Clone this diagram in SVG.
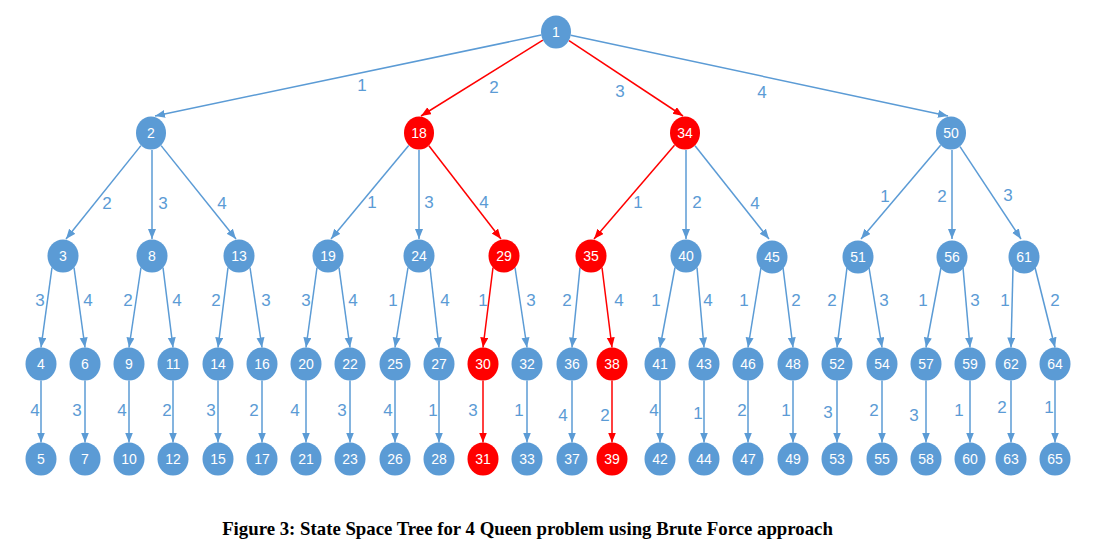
<svg xmlns="http://www.w3.org/2000/svg" width="1095" height="554" viewBox="0 0 1095 554">
<style>
.n ellipse{fill:#5B9BD5}
.r ellipse{fill:#FF0000}
.n text,.r text{fill:#fff;font-family:"Liberation Sans",Arial,sans-serif;font-size:14px;text-anchor:middle}
.e{stroke:#5B9BD5;stroke-width:1.5;fill:none;marker-end:url(#ab)}
.er{stroke:#FF0000;stroke-width:1.5;fill:none;marker-end:url(#ar)}
.lb{fill:#5B9BD5;font-family:"Liberation Sans",Arial,sans-serif;font-size:17px;text-anchor:middle}
.cap{font-family:"Liberation Serif","Times New Roman",serif;font-weight:bold;font-size:18.8px;text-anchor:middle;fill:#000}
</style>
<defs>
<marker id="ab" markerUnits="userSpaceOnUse" markerWidth="11" markerHeight="9" refX="10" refY="4" orient="auto"><path d="M0,0 L10,4 L0,8 z" fill="#5B9BD5"/></marker>
<marker id="ar" markerUnits="userSpaceOnUse" markerWidth="11" markerHeight="9" refX="10" refY="4" orient="auto"><path d="M0,0 L10,4 L0,8 z" fill="#FF0000"/></marker>
</defs>
<rect width="1095" height="554" fill="#fff"/>
<g id="connectors">
<line class="e" x1="541.2" y1="35.1" x2="155" y2="116"/>
<line class="er" x1="542.9" y1="40.2" x2="421" y2="116"/>
<line class="er" x1="569" y1="40.6" x2="683" y2="116"/>
<line class="e" x1="570.7" y1="35.2" x2="948" y2="116"/>
<line class="e" x1="140.9" y1="145.6" x2="66" y2="239"/>
<line class="e" x1="152" y1="150" x2="152" y2="239"/>
<line class="e" x1="161.1" y1="145.6" x2="236" y2="239"/>
<line class="e" x1="408.7" y1="145.4" x2="331" y2="239"/>
<line class="e" x1="419" y1="150" x2="419" y2="239"/>
<line class="er" x1="428.9" y1="145.8" x2="501" y2="239"/>
<line class="er" x1="674.5" y1="145.2" x2="594" y2="239"/>
<line class="e" x1="686" y1="150" x2="686" y2="239"/>
<line class="e" x1="695" y1="145.7" x2="769" y2="239"/>
<line class="e" x1="940.6" y1="145.3" x2="861" y2="239"/>
<line class="e" x1="952" y1="150" x2="952" y2="239"/>
<line class="e" x1="960" y1="146.6" x2="1021" y2="239"/>
<line class="e" x1="52" y1="267.5" x2="41" y2="347.5"/>
<line class="e" x1="74" y1="267.5" x2="85" y2="347.5"/>
<line class="e" x1="141" y1="267.5" x2="129" y2="347.5"/>
<line class="e" x1="163" y1="267.5" x2="173" y2="347.5"/>
<line class="e" x1="228" y1="267.5" x2="218" y2="347.5"/>
<line class="e" x1="250" y1="267.5" x2="262" y2="347.5"/>
<line class="e" x1="317" y1="267.5" x2="306" y2="347.5"/>
<line class="e" x1="339" y1="267.5" x2="350" y2="347.5"/>
<line class="e" x1="408" y1="267.5" x2="395" y2="347.5"/>
<line class="e" x1="430" y1="267.5" x2="439" y2="347.5"/>
<line class="er" x1="493" y1="267.5" x2="483" y2="347.5"/>
<line class="e" x1="515" y1="267.5" x2="527" y2="347.5"/>
<line class="e" x1="580" y1="267.5" x2="572" y2="347.5"/>
<line class="er" x1="602" y1="267.5" x2="612" y2="347.5"/>
<line class="e" x1="675" y1="267.5" x2="660" y2="347.5"/>
<line class="e" x1="697" y1="267.5" x2="704" y2="347.5"/>
<line class="e" x1="761" y1="267.5" x2="748" y2="347.5"/>
<line class="e" x1="783" y1="267.5" x2="793" y2="347.5"/>
<line class="e" x1="847" y1="267.5" x2="837" y2="347.5"/>
<line class="e" x1="869" y1="267.5" x2="882" y2="347.5"/>
<line class="e" x1="941" y1="267.5" x2="926" y2="347.5"/>
<line class="e" x1="963" y1="267.5" x2="970" y2="347.5"/>
<line class="e" x1="1013" y1="267.5" x2="1011" y2="347.5"/>
<line class="e" x1="1035" y1="267.5" x2="1055" y2="347.5"/>
<line class="e" x1="41" y1="380.5" x2="41" y2="442.5"/>
<line class="e" x1="85" y1="380.5" x2="85" y2="442.5"/>
<line class="e" x1="129" y1="380.5" x2="129" y2="442.5"/>
<line class="e" x1="173" y1="380.5" x2="173" y2="442.5"/>
<line class="e" x1="218" y1="380.5" x2="218" y2="442.5"/>
<line class="e" x1="262" y1="380.5" x2="262" y2="442.5"/>
<line class="e" x1="306" y1="380.5" x2="306" y2="442.5"/>
<line class="e" x1="350" y1="380.5" x2="350" y2="442.5"/>
<line class="e" x1="395" y1="380.5" x2="395" y2="442.5"/>
<line class="e" x1="439" y1="380.5" x2="439" y2="442.5"/>
<line class="er" x1="483" y1="380.5" x2="483" y2="442.5"/>
<line class="e" x1="527" y1="380.5" x2="527" y2="442.5"/>
<line class="e" x1="572" y1="380.5" x2="572" y2="442.5"/>
<line class="er" x1="612" y1="380.5" x2="612" y2="442.5"/>
<line class="e" x1="660" y1="380.5" x2="660" y2="442.5"/>
<line class="e" x1="704" y1="380.5" x2="704" y2="442.5"/>
<line class="e" x1="748" y1="380.5" x2="748" y2="442.5"/>
<line class="e" x1="793" y1="380.5" x2="793" y2="442.5"/>
<line class="e" x1="837" y1="380.5" x2="837" y2="442.5"/>
<line class="e" x1="882" y1="380.5" x2="882" y2="442.5"/>
<line class="e" x1="926" y1="380.5" x2="926" y2="442.5"/>
<line class="e" x1="970" y1="380.5" x2="970" y2="442.5"/>
<line class="e" x1="1011" y1="380.5" x2="1011" y2="442.5"/>
<line class="e" x1="1055" y1="380.5" x2="1055" y2="442.5"/>
</g>
<g id="edge-labels" class="lb">
<text class="lb" x="362" y="91">1</text>
<text class="lb" x="494" y="93">2</text>
<text class="lb" x="620" y="97">3</text>
<text class="lb" x="762" y="98">4</text>
<text class="lb" x="107" y="209">2</text>
<text class="lb" x="163" y="209">3</text>
<text class="lb" x="222" y="209">4</text>
<text class="lb" x="372" y="208">1</text>
<text class="lb" x="429" y="208">3</text>
<text class="lb" x="484" y="208">4</text>
<text class="lb" x="638" y="208">1</text>
<text class="lb" x="697" y="208">2</text>
<text class="lb" x="755" y="209">4</text>
<text class="lb" x="885" y="202">1</text>
<text class="lb" x="942" y="202">2</text>
<text class="lb" x="1008" y="201">3</text>
<text class="lb" x="40" y="306">3</text>
<text class="lb" x="88" y="306">4</text>
<text class="lb" x="128" y="306">2</text>
<text class="lb" x="177" y="306">4</text>
<text class="lb" x="216" y="306">2</text>
<text class="lb" x="266" y="306">3</text>
<text class="lb" x="306" y="306">3</text>
<text class="lb" x="353" y="306">4</text>
<text class="lb" x="393" y="306">1</text>
<text class="lb" x="445" y="306">4</text>
<text class="lb" x="483" y="306">1</text>
<text class="lb" x="531" y="306">3</text>
<text class="lb" x="567" y="306">2</text>
<text class="lb" x="619" y="306">4</text>
<text class="lb" x="656" y="306">1</text>
<text class="lb" x="708" y="306">4</text>
<text class="lb" x="744" y="306">1</text>
<text class="lb" x="796" y="306">2</text>
<text class="lb" x="832" y="306">2</text>
<text class="lb" x="884" y="306">3</text>
<text class="lb" x="923" y="306">1</text>
<text class="lb" x="975" y="306">3</text>
<text class="lb" x="1005" y="306">1</text>
<text class="lb" x="1055" y="306">2</text>
<text class="lb" x="35" y="416">4</text>
<text class="lb" x="77" y="416">3</text>
<text class="lb" x="122" y="416">4</text>
<text class="lb" x="167" y="416">2</text>
<text class="lb" x="211" y="416">3</text>
<text class="lb" x="254" y="416">2</text>
<text class="lb" x="295" y="416">4</text>
<text class="lb" x="342" y="416">3</text>
<text class="lb" x="388" y="416">4</text>
<text class="lb" x="433" y="416">1</text>
<text class="lb" x="473" y="416">3</text>
<text class="lb" x="519" y="416">1</text>
<text class="lb" x="563" y="421">4</text>
<text class="lb" x="605" y="421">2</text>
<text class="lb" x="654" y="416">4</text>
<text class="lb" x="698" y="419">1</text>
<text class="lb" x="742" y="416">2</text>
<text class="lb" x="786" y="416">1</text>
<text class="lb" x="828" y="418">3</text>
<text class="lb" x="874" y="416">2</text>
<text class="lb" x="914" y="421">3</text>
<text class="lb" x="959" y="416">1</text>
<text class="lb" x="1002" y="413">2</text>
<text class="lb" x="1049" y="413">1</text>
</g>
<g id="node-1" class="n"><ellipse cx="556" cy="32" rx="15" ry="16.5"/><text x="556" y="37">1</text></g>
<g id="node-2" class="n"><ellipse cx="151" cy="133" rx="15" ry="16.5"/><text x="151" y="138">2</text></g>
<g id="node-18" class="r"><ellipse cx="419" cy="133" rx="15" ry="16.5"/><text x="419" y="138">18</text></g>
<g id="node-34" class="r"><ellipse cx="685" cy="133" rx="15" ry="16.5"/><text x="685" y="138">34</text></g>
<g id="node-50" class="n"><ellipse cx="951" cy="133" rx="15" ry="16.5"/><text x="951" y="138">50</text></g>
<g id="node-3" class="n"><ellipse cx="63" cy="256" rx="15.5" ry="16.5"/><text x="63" y="261">3</text></g>
<g id="node-8" class="n"><ellipse cx="152" cy="256" rx="15.5" ry="16.5"/><text x="152" y="261">8</text></g>
<g id="node-13" class="n"><ellipse cx="239" cy="256" rx="15.5" ry="16.5"/><text x="239" y="261">13</text></g>
<g id="node-19" class="n"><ellipse cx="328" cy="256" rx="15.5" ry="16.5"/><text x="328" y="261">19</text></g>
<g id="node-24" class="n"><ellipse cx="419" cy="256" rx="15.5" ry="16.5"/><text x="419" y="261">24</text></g>
<g id="node-29" class="r"><ellipse cx="504" cy="256" rx="15.5" ry="16.5"/><text x="504" y="261">29</text></g>
<g id="node-35" class="r"><ellipse cx="591" cy="256" rx="15.5" ry="16.5"/><text x="591" y="261">35</text></g>
<g id="node-40" class="n"><ellipse cx="686" cy="256" rx="15.5" ry="16.5"/><text x="686" y="261">40</text></g>
<g id="node-45" class="n"><ellipse cx="772" cy="257" rx="15.5" ry="16.5"/><text x="772" y="262">45</text></g>
<g id="node-51" class="n"><ellipse cx="858" cy="257" rx="15.5" ry="16.5"/><text x="858" y="262">51</text></g>
<g id="node-56" class="n"><ellipse cx="952" cy="257" rx="15.5" ry="16.5"/><text x="952" y="262">56</text></g>
<g id="node-61" class="n"><ellipse cx="1024" cy="257" rx="15.5" ry="16.5"/><text x="1024" y="262">61</text></g>
<g id="node-4" class="n"><ellipse cx="41" cy="364" rx="15.5" ry="16.5"/><text x="41" y="369">4</text></g>
<g id="node-6" class="n"><ellipse cx="85" cy="364" rx="15.5" ry="16.5"/><text x="85" y="369">6</text></g>
<g id="node-9" class="n"><ellipse cx="129" cy="364" rx="15.5" ry="16.5"/><text x="129" y="369">9</text></g>
<g id="node-11" class="n"><ellipse cx="173" cy="364" rx="15.5" ry="16.5"/><text x="173" y="369">11</text></g>
<g id="node-14" class="n"><ellipse cx="218" cy="364" rx="15.5" ry="16.5"/><text x="218" y="369">14</text></g>
<g id="node-16" class="n"><ellipse cx="262" cy="364" rx="15.5" ry="16.5"/><text x="262" y="369">16</text></g>
<g id="node-20" class="n"><ellipse cx="306" cy="364" rx="15.5" ry="16.5"/><text x="306" y="369">20</text></g>
<g id="node-22" class="n"><ellipse cx="350" cy="364" rx="15.5" ry="16.5"/><text x="350" y="369">22</text></g>
<g id="node-25" class="n"><ellipse cx="395" cy="364" rx="15.5" ry="16.5"/><text x="395" y="369">25</text></g>
<g id="node-27" class="n"><ellipse cx="439" cy="364" rx="15.5" ry="16.5"/><text x="439" y="369">27</text></g>
<g id="node-30" class="r"><ellipse cx="483" cy="364" rx="15.5" ry="16.5"/><text x="483" y="369">30</text></g>
<g id="node-32" class="n"><ellipse cx="527" cy="364" rx="15.5" ry="16.5"/><text x="527" y="369">32</text></g>
<g id="node-36" class="n"><ellipse cx="572" cy="364" rx="15.5" ry="16.5"/><text x="572" y="369">36</text></g>
<g id="node-38" class="r"><ellipse cx="612" cy="364" rx="15.5" ry="16.5"/><text x="612" y="369">38</text></g>
<g id="node-41" class="n"><ellipse cx="660" cy="364" rx="15.5" ry="16.5"/><text x="660" y="369">41</text></g>
<g id="node-43" class="n"><ellipse cx="704" cy="364" rx="15.5" ry="16.5"/><text x="704" y="369">43</text></g>
<g id="node-46" class="n"><ellipse cx="748" cy="364" rx="15.5" ry="16.5"/><text x="748" y="369">46</text></g>
<g id="node-48" class="n"><ellipse cx="793" cy="364" rx="15.5" ry="16.5"/><text x="793" y="369">48</text></g>
<g id="node-52" class="n"><ellipse cx="837" cy="364" rx="15.5" ry="16.5"/><text x="837" y="369">52</text></g>
<g id="node-54" class="n"><ellipse cx="882" cy="364" rx="15.5" ry="16.5"/><text x="882" y="369">54</text></g>
<g id="node-57" class="n"><ellipse cx="926" cy="364" rx="15.5" ry="16.5"/><text x="926" y="369">57</text></g>
<g id="node-59" class="n"><ellipse cx="970" cy="364" rx="15.5" ry="16.5"/><text x="970" y="369">59</text></g>
<g id="node-62" class="n"><ellipse cx="1011" cy="364" rx="15.5" ry="16.5"/><text x="1011" y="369">62</text></g>
<g id="node-64" class="n"><ellipse cx="1055" cy="364" rx="15.5" ry="16.5"/><text x="1055" y="369">64</text></g>
<g id="node-5" class="n"><ellipse cx="41" cy="459" rx="15.5" ry="16.5"/><text x="41" y="464">5</text></g>
<g id="node-7" class="n"><ellipse cx="85" cy="459" rx="15.5" ry="16.5"/><text x="85" y="464">7</text></g>
<g id="node-10" class="n"><ellipse cx="129" cy="459" rx="15.5" ry="16.5"/><text x="129" y="464">10</text></g>
<g id="node-12" class="n"><ellipse cx="173" cy="459" rx="15.5" ry="16.5"/><text x="173" y="464">12</text></g>
<g id="node-15" class="n"><ellipse cx="218" cy="459" rx="15.5" ry="16.5"/><text x="218" y="464">15</text></g>
<g id="node-17" class="n"><ellipse cx="262" cy="459" rx="15.5" ry="16.5"/><text x="262" y="464">17</text></g>
<g id="node-21" class="n"><ellipse cx="306" cy="459" rx="15.5" ry="16.5"/><text x="306" y="464">21</text></g>
<g id="node-23" class="n"><ellipse cx="350" cy="459" rx="15.5" ry="16.5"/><text x="350" y="464">23</text></g>
<g id="node-26" class="n"><ellipse cx="395" cy="459" rx="15.5" ry="16.5"/><text x="395" y="464">26</text></g>
<g id="node-28" class="n"><ellipse cx="439" cy="459" rx="15.5" ry="16.5"/><text x="439" y="464">28</text></g>
<g id="node-31" class="r"><ellipse cx="483" cy="459" rx="15.5" ry="16.5"/><text x="483" y="464">31</text></g>
<g id="node-33" class="n"><ellipse cx="527" cy="459" rx="15.5" ry="16.5"/><text x="527" y="464">33</text></g>
<g id="node-37" class="n"><ellipse cx="572" cy="459" rx="15.5" ry="16.5"/><text x="572" y="464">37</text></g>
<g id="node-39" class="r"><ellipse cx="612" cy="459" rx="15.5" ry="16.5"/><text x="612" y="464">39</text></g>
<g id="node-42" class="n"><ellipse cx="660" cy="459" rx="15.5" ry="16.5"/><text x="660" y="464">42</text></g>
<g id="node-44" class="n"><ellipse cx="704" cy="459" rx="15.5" ry="16.5"/><text x="704" y="464">44</text></g>
<g id="node-47" class="n"><ellipse cx="748" cy="459" rx="15.5" ry="16.5"/><text x="748" y="464">47</text></g>
<g id="node-49" class="n"><ellipse cx="793" cy="459" rx="15.5" ry="16.5"/><text x="793" y="464">49</text></g>
<g id="node-53" class="n"><ellipse cx="837" cy="459" rx="15.5" ry="16.5"/><text x="837" y="464">53</text></g>
<g id="node-55" class="n"><ellipse cx="882" cy="459" rx="15.5" ry="16.5"/><text x="882" y="464">55</text></g>
<g id="node-58" class="n"><ellipse cx="926" cy="459" rx="15.5" ry="16.5"/><text x="926" y="464">58</text></g>
<g id="node-60" class="n"><ellipse cx="970" cy="459" rx="15.5" ry="16.5"/><text x="970" y="464">60</text></g>
<g id="node-63" class="n"><ellipse cx="1011" cy="459" rx="15.5" ry="16.5"/><text x="1011" y="464">63</text></g>
<g id="node-65" class="n"><ellipse cx="1055" cy="459" rx="15.5" ry="16.5"/><text x="1055" y="464">65</text></g>
<text class="cap" x="527.5" y="535">Figure 3: State Space Tree for 4 Queen problem using Brute Force approach</text>
</svg>
